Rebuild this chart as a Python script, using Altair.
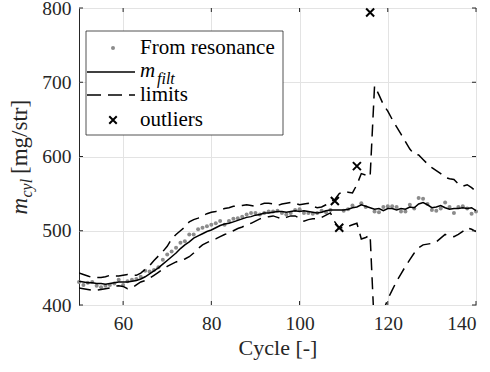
import altair as alt
import pandas as pd

# ---------------- data ----------------
cycles = list(range(50, 141))
resonance = [431, 427, 430, 431, 426, 424, 426, 427, 429, 434,
             427, 432, 434, 435, 438, 446, 445, 447, 451, 461,
             468, 472, 477, 484, 486, 495, 495, 502, 504, 506,
             508, 510, 513, 508, 513, 516, 517, 519, 522, 524,
             524, 522, 524, 526, 526, 527, 524, 522, 524, 528,
             529, 524, 524, 523, 524, 527, 525, 528, None, None,
             527, 529, 534, None, 537, 532, None, 526, 525, 532,
             533, 533, 532, 526, 526, 535, 530, 544, 543, 536,
             528, 527, 530, 538, 532, 524, 532, 533, 530, 523,
             526]
filt = [432, 431, 430, 430, 429, 429, 428, 429, 430, 431,
        431, 431, 432, 433, 435, 438, 442, 446, 450, 455,
        460, 465, 470, 476, 481, 485, 490, 493, 496, 499,
        501, 504, 507, 509, 510, 512, 514, 516, 518, 519,
        521, 522, 524, 524, 525, 526, 526, 525, 526, 527,
        526, 527, 526, 525, 524, 525, 527, 528, 528, 528,
        528, 529, 531, 532, 535, 533, 531, 529, 530, 527,
        530, 530, 528, 530, 529, 532, 531, 536, 538, 535,
        531, 532, 534, 531, 529, 530, 530, 531, 530, 531,
        527]
upper = [443, 441, 439, 437, 437, 437, 438, 440, 439, 439,
         440, 441, 440, 440, 443, 448, 453, 460, 466, 472,
         479, 489, 495, 500, 505, 512, 515, 517, 520, 523,
         525, 526, 528, 530, 531, 533, 533, 534, 535, 534,
         533, 535, 537, 537, 536, 534, 536, 537, 538, 537,
         535, 536, 537, 533, 531, 532, 535, 539, 542, 550,
         553, 552, 551, 562, 577, 575, 573, 695, 683, 670,
         661, 650, 640, 630, 620, 610, 603, 602, 596, 590,
         585, 581, 577, 572, 570, 569, 563, 560, 562, 558,
         553]
lower = [423, 422, 421, 420, 420, 421, 422, 423, 425, 426,
         425, 422, 423, 427, 431, 433, 436, 440, 444, 448,
         452, 455, 458, 460, 462, 465, 470, 476, 481, 484,
         487, 489, 492, 495, 497, 500, 503, 505, 508, 510,
         513, 516, 518, 519, 520, 518, 516, 518, 520, 520,
         517, 513, 515, 516, 516, 518, 521, 524, 512, 503,
         505, 506, 508, 510, 489, 491, 494, 363, 375, 392,
         408, 420, 432, 442, 452, 461, 470, 477, 481, 482,
         483, 485, 490, 495, 493, 492, 495, 499, 504, 502,
         499]
outlier_cycles = [108, 109, 113, 116]
outlier_values = [540, 504, 587, 794]

x_ticks = [60, 80, 100, 120, 140]
y_ticks = [400, 500, 600, 700, 800]
x_title = "Cycle [-]"
y_title_parts = ["m", "cyl", "[mg/str]"]
legend_texts = ["From resonance", "m", "filt", "limits", "outliers"]

# ---------------- styling ----------------
W, H = 397, 297
FONT = "Liberation Serif, DejaVu Serif, serif"
INK = "#262626"
GRID = "#e3e3e3"
DOT = "#8c8c8c"
XSHAPE = "M-1,-1L1,1M1,-1L-1,1"

df = pd.DataFrame({"cycle": cycles, "resonance": resonance, "filt": filt,
                   "upper": upper, "lower": lower})
out_df = pd.DataFrame({"cycle": outlier_cycles, "value": outlier_values})
xt_df = pd.DataFrame({"cycle": x_ticks})
yt_df = pd.DataFrame({"value": y_ticks})

xs = alt.Scale(domain=[50, 140], nice=False, zero=False)
ys = alt.Scale(domain=[400, 800], nice=False, zero=False)

x_axis = alt.Axis(values=x_ticks, grid=True, gridColor=GRID, gridWidth=1,
                  domain=False, ticks=False, labelFont=FONT, labelFontSize=19.5,
                  labelColor=INK, labelPadding=9, title=x_title, titleFont=FONT,
                  titleFontSize=22, titleFontWeight="normal", titleColor=INK,
                  titlePadding=5)
y_axis = alt.Axis(values=y_ticks, grid=True, gridColor=GRID, gridWidth=1,
                  domain=False, ticks=False, labelFont=FONT, labelFontSize=19.5,
                  labelColor=INK, labelPadding=8, title="")


def X(field):
    return alt.X(field, scale=xs, axis=x_axis)


def Y(field):
    return alt.Y(field, scale=ys, axis=y_axis)


base = alt.Chart(df)

dots = base.mark_circle(size=16, color=DOT, opacity=1).encode(
    x=X("cycle:Q"), y=Y("resonance:Q"))
filt_line = base.mark_line(color="black", strokeWidth=1.5, clip=True).encode(
    x=X("cycle:Q"), y=Y("filt:Q"))
upper_line = base.mark_line(color="black", strokeWidth=1.5, strokeDash=[12, 7],
                            clip=True).encode(x=X("cycle:Q"), y=Y("upper:Q"))
lower_line = base.mark_line(color="black", strokeWidth=1.5, strokeDash=[12, 7],
                            clip=True).encode(x=X("cycle:Q"), y=Y("lower:Q"))
outliers = alt.Chart(out_df).mark_point(shape=XSHAPE, size=64, filled=False,
                                        stroke="black", strokeWidth=2,
                                        opacity=1).encode(
    x=X("cycle:Q"), y=Y("value:Q"))

# inward ticks on all four sides
tick_b = alt.Chart(xt_df).mark_rule(color=INK, strokeWidth=1).encode(
    x=X("cycle:Q"), y=alt.value(H), y2=alt.value(H - 4))
tick_t = alt.Chart(xt_df).mark_rule(color=INK, strokeWidth=1).encode(
    x=X("cycle:Q"), y=alt.value(0), y2=alt.value(4))
tick_l = alt.Chart(yt_df).mark_rule(color=INK, strokeWidth=1).encode(
    y=Y("value:Q"), x=alt.value(0), x2=alt.value(4))
tick_r = alt.Chart(yt_df).mark_rule(color=INK, strokeWidth=1).encode(
    y=Y("value:Q"), x=alt.value(W), x2=alt.value(W - 4))

one = pd.DataFrame({"k": [0]})


def txt(s, x, y, size, italic=False, angle=0, baseline="middle"):
    kw = dict(align="left", baseline=baseline, font=FONT, fontSize=size,
              color=INK if angle else "black")
    if italic:
        kw["fontStyle"] = "italic"
    if angle:
        kw["angle"] = angle
    return alt.Chart(pd.DataFrame({"t": [s]})).mark_text(**kw).encode(
        text="t:N", x=alt.value(x), y=alt.value(y))


# legend
leg_box = alt.Chart(one).mark_rect(fill="white", stroke=INK, strokeWidth=0.8).encode(
    x=alt.value(7), x2=alt.value(204), y=alt.value(23), y2=alt.value(127))
leg_dot = alt.Chart(one).mark_circle(size=16, color=DOT, opacity=1).encode(
    x=alt.value(34), y=alt.value(40))
leg_solid = alt.Chart(one).mark_rule(color="black", strokeWidth=1.5).encode(
    x=alt.value(8), x2=alt.value(56), y=alt.value(64))
leg_dash = alt.Chart(one).mark_rule(color="black", strokeWidth=1.5,
                                    strokeDash=[14, 7]).encode(
    x=alt.value(8), x2=alt.value(56), y=alt.value(87))
leg_x = alt.Chart(one).mark_point(shape=XSHAPE, size=56, filled=False,
                                  stroke="black", strokeWidth=2, opacity=1).encode(
    x=alt.value(34), y=alt.value(112))
leg_t1 = txt(legend_texts[0], 61, 40, 21)
leg_t2 = txt(legend_texts[1], 61, 69, 21, italic=True, baseline="alphabetic")
leg_t3 = txt(legend_texts[2], 78, 76, 16, italic=True, baseline="alphabetic")
leg_t4 = txt(legend_texts[3], 61, 87, 21)
leg_t5 = txt(legend_texts[4], 61, 112, 21)

# y title built from pieces (italic m with subscript)
yt1 = txt(y_title_parts[0], -52.5, 206.5, 23, italic=True, angle=270,
          baseline="alphabetic")
yt2 = txt(y_title_parts[1], -47.5, 189.5, 16, italic=True, angle=270,
          baseline="alphabetic")
yt3 = txt(y_title_parts[2], -52.5, 166, 23, angle=270, baseline="alphabetic")

chart = alt.layer(
    dots, filt_line, upper_line, lower_line, outliers,
    tick_b, tick_t, tick_l, tick_r,
    leg_box, leg_dot, leg_solid, leg_dash, leg_x,
    leg_t1, leg_t2, leg_t3, leg_t4, leg_t5,
    yt1, yt2, yt3,
).properties(
    width=W, height=H,
    padding={"left": 79, "top": 8, "right": 14, "bottom": 67},
    autosize=alt.AutoSizeParams(type="none"),
    background="white",
).configure_view(stroke=INK, strokeWidth=1)

chart.save("out.html", embed_options={"renderer": "svg", "actions": False})
